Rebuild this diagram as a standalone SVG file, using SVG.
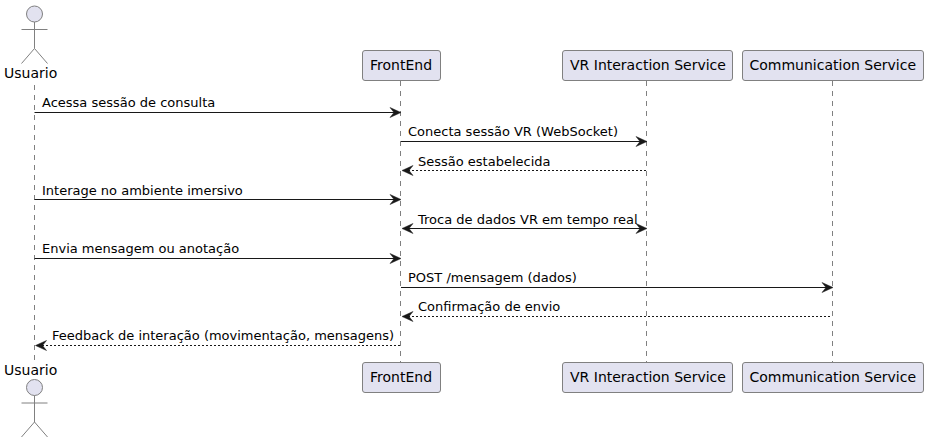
<svg xmlns="http://www.w3.org/2000/svg" width="928" height="443" viewBox="0 0 928 443">
<style>
text{font-family:"DejaVu Sans",sans-serif;fill:#000}
.n{font-size:14px}
.m{font-size:13px}
.life{stroke:#808080;stroke-width:1;stroke-dasharray:5 5;fill:none}
.box{fill:#E2E2F0;stroke:#808080;stroke-width:1}
.head{fill:#E2E2F0;stroke:#808080;stroke-width:1}
.stick{fill:none;stroke:#808080;stroke-width:1}
.a{stroke:#181818;stroke-width:1;fill:none}
.d{stroke-dasharray:2 2}
.h{fill:#181818;stroke:#181818;stroke-width:.5}
</style>
<defs>
<g id="actor"><circle class="head" cx="34.500" cy="14" r="8"/><path class="stick" d="M34.500 22V48.500M21.500 29.500H47.500M34.500 48.500L21.500 63.500M34.500 48.500L47.500 63.500"/></g>
<path id="ar" class="h" d="M0 0L-11-5L-7 0L-11 5Z"/>
<path id="al" class="h" d="M0 0L11-5L7 0L11 5Z"/>
</defs>
<g id="lifelines">
<path class="life" d="M34.500 85V361"/>
<path class="life" d="M400.500 81V362"/>
<path class="life" d="M646.500 81V362"/>
<path class="life" d="M832.500 81V362"/>
</g>
<g id="node-usuario-top"><use href="#actor"/><text class="n" x="4" y="78">Usuario</text></g>
<g id="node-frontend-top"><rect class="box" x="362.500" y="50.500" width="78" height="30" rx="2.500"/><text class="n" x="370" y="70">FrontEnd</text></g>
<g id="node-vr-top"><rect class="box" x="562.500" y="50.500" width="170" height="30" rx="2.500"/><text class="n" x="570" y="70">VR Interaction Service</text></g>
<g id="node-comm-top"><rect class="box" x="742.500" y="50.500" width="181" height="30" rx="2.500"/><text class="n" x="749.500" y="70">Communication Service</text></g>
<g id="connectors">
<path class="a" d="M34.500 112.500H395"/><use href="#ar" x="401" y="112.500"/>
<path class="a" d="M401 141.500H641"/><use href="#ar" x="647" y="141.500"/>
<path class="a d" d="M408 170.500H646"/><use href="#al" x="402" y="170.500"/>
<path class="a" d="M34.500 199.500H395"/><use href="#ar" x="401" y="199.500"/>
<path class="a" d="M408 228.500H641"/><use href="#al" x="402" y="228.500"/><use href="#ar" x="647" y="228.500"/>
<path class="a" d="M34.500 258.500H395"/><use href="#ar" x="401" y="258.500"/>
<path class="a" d="M401 287.500H827"/><use href="#ar" x="833" y="287.500"/>
<path class="a d" d="M408 316.500H832"/><use href="#al" x="402" y="316.500"/>
<path class="a d" d="M42 345.500H400"/><use href="#al" x="35.500" y="345.500"/>
</g>
<g id="labels">
<text class="m" x="42" y="107">Acessa sessão de consulta</text>
<text class="m" x="408" y="136">Conecta sessão VR (WebSocket)</text>
<text class="m" x="418" y="166">Sessão estabelecida</text>
<text class="m" x="42" y="195">Interage no ambiente imersivo</text>
<text class="m" x="418" y="224">Troca de dados VR em tempo real</text>
<text class="m" x="42" y="253">Envia mensagem ou anotação</text>
<text class="m" x="408" y="282">POST /mensagem (dados)</text>
<text class="m" x="418" y="311">Confirmação de envio</text>
<text class="m" x="52" y="340">Feedback de interação (movimentação, mensagens)</text>
</g>
<g id="node-usuario-bottom"><use href="#actor" y="373.500"/><text class="n" x="4" y="375">Usuario</text></g>
<g id="node-frontend-bottom"><rect class="box" x="362.500" y="362.500" width="78" height="30" rx="2.500"/><text class="n" x="370" y="382">FrontEnd</text></g>
<g id="node-vr-bottom"><rect class="box" x="562.500" y="362.500" width="170" height="30" rx="2.500"/><text class="n" x="570" y="382">VR Interaction Service</text></g>
<g id="node-comm-bottom"><rect class="box" x="742.500" y="362.500" width="181" height="30" rx="2.500"/><text class="n" x="749.500" y="382">Communication Service</text></g>
</svg>
